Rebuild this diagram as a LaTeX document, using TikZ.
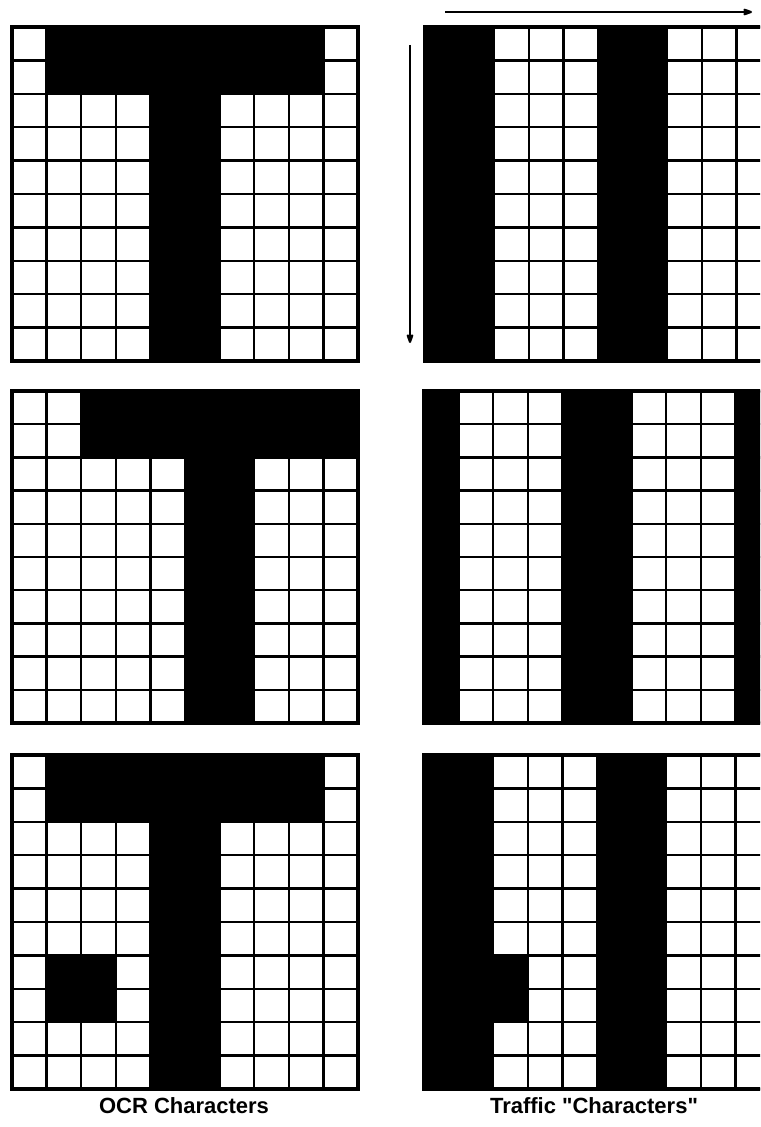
\documentclass[tikz,border=0pt]{standalone}
\usepackage{fontspec}
\newfontfamily\capfont{Liberation Sans}
\usetikzlibrary{arrows.meta}
\tikzset{
  gl/.style={line width=1.7pt, line cap=rect},
  frame/.style={line width=2.3pt},
  dirarrow/.style={line width=1.6pt, -{Stealth[length=10pt,width=7pt,round]}},
  caption/.style={font=\capfont\fontsize{16.5}{18}\selectfont\bfseries, inner sep=0pt},
}
\newcommand\cellgrid{%
  \foreach \i in {0,...,10} {
    \draw[gl] (\i,0) -- (\i,10);
    \draw[gl] (0,\i) -- (10,\i);
  }%
}
\begin{document}
\begin{tikzpicture}[x=0.75pt, y=-0.75pt]
\useasboundingbox (0,0) rectangle (760,1127);
\clip (0,0) rectangle (760,1127);
\fill[white] (0,0) rectangle (760,1127);

% ---------- left column: OCR characters ----------
\begin{scope}[shift={(12,27)}, x=25.95pt, y=-25.05pt]
  \cellgrid
  \fill (1,0) rectangle (9,2);
  \fill (4,2) rectangle (6,10);
  \draw[frame] (0,0) rectangle (10,10);
\end{scope}
\begin{scope}[shift={(12,391)}, x=25.95pt, y=-24.9pt]
  \cellgrid
  \fill (2,0) rectangle (10,2);
  \fill (5,2) rectangle (7,10);
  \draw[frame] (0,0) rectangle (10,10);
\end{scope}
\begin{scope}[shift={(12,755)}, x=25.95pt, y=-25.05pt]
  \cellgrid
  \fill (1,0) rectangle (9,2);
  \fill (4,2) rectangle (6,10);
  \fill (1,6) rectangle (3,8);
  \draw[frame] (0,0) rectangle (10,10);
\end{scope}

% ---------- right column: traffic characters ----------
\begin{scope}[shift={(425,27)}, x=25.95pt, y=-25.05pt]
  \cellgrid
  \fill (0,0) rectangle (2,10);
  \fill (5,0) rectangle (7,10);
  \draw[frame] (0,0) rectangle (10,10);
\end{scope}
\begin{scope}[shift={(424,391)}, x=25.95pt, y=-24.9pt]
  \cellgrid
  \fill (0,0) rectangle (1,10);
  \fill (4,0) rectangle (6,10);
  \fill (9,0) rectangle (10,10);
  \draw[frame] (0,0) rectangle (10,10);
\end{scope}
\begin{scope}[shift={(424,755)}, x=25.95pt, y=-25.05pt]
  \cellgrid
  \fill (0,0) rectangle (2,10);
  \fill (5,0) rectangle (7,10);
  \fill (2,6) rectangle (3,8);
  \draw[frame] (0,0) rectangle (10,10);
\end{scope}

% ---------- direction arrows ----------
\coordinate (hstart) at (445,12);
\coordinate (hend) at (752,12);
\coordinate (vstart) at (410,45);
\coordinate (vend) at (410,343);
\draw[dirarrow] (hstart) -- (hend);
\draw[dirarrow] (vstart) -- (vend);

% ---------- captions ----------
\node[caption] (ocr) at (184,1106) {OCR Characters};
\node[caption] (traffic) at (594,1106) {Traffic "Characters"};
\end{tikzpicture}
\end{document}
